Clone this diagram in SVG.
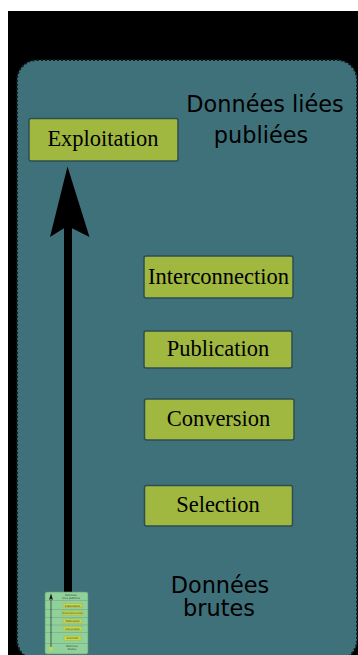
<svg xmlns="http://www.w3.org/2000/svg" width="358" height="655" viewBox="0 0 358 655">
  <style>
    .box { fill: #a0b83f; stroke: #2f4c52; stroke-width: 1.5; }
    .lbl { font-family: "Liberation Serif", serif; font-size: 22.5px; fill: #000; text-anchor: middle; }
    .big { font-family: "DejaVu Sans", sans-serif; font-size: 22.4px; fill: #000; text-anchor: middle; }
    .tb { fill: #c8d64a; stroke: #9fb03a; stroke-width: 0.4; }
    .tt { font-family: "DejaVu Sans", sans-serif; font-size: 2.6px; fill: #333; text-anchor: middle; }
    .ln { stroke: #6aa07a; stroke-width: 0.5; }
  </style>
  <rect x="0" y="0" width="358" height="655" fill="#ffffff"/>
  <rect x="8" y="11" width="350" height="644" fill="#000000"/>
  <rect id="panel" x="17" y="60" width="340" height="600" rx="20" ry="20" fill="#3f717b" stroke="#101a1c" stroke-width="2" stroke-dasharray="2 2"/>

  <g id="label-top">
    <text class="big" x="265" y="111.5">Données liées</text>
    <text class="big" x="261" y="143">publiées</text>
  </g>
  <g id="label-bottom">
    <text class="big" x="220" y="592.5">Données</text>
    <text class="big" x="219" y="616">brutes</text>
  </g>

  <g id="connectors">
    <rect x="64" y="224" width="8" height="369" fill="#000"/>
    <polygon points="67.5,166.5 89.5,237 67.5,226 50,237" fill="#000"/>
  </g>

  <g id="exploitation">
    <rect class="box" x="29" y="118.5" width="149" height="42.5" rx="2"/>
    <text class="lbl" x="103" y="146">Exploitation</text>
  </g>
  <g id="interconnection">
    <rect class="box" x="144" y="256" width="149" height="42" rx="2"/>
    <text class="lbl" x="218.5" y="283.5">Interconnection</text>
  </g>
  <g id="publication">
    <rect class="box" x="144" y="331" width="148" height="37" rx="2"/>
    <text class="lbl" x="218" y="356">Publication</text>
  </g>
  <g id="conversion">
    <rect class="box" x="144.5" y="399" width="149.5" height="41" rx="2"/>
    <text class="lbl" x="218.5" y="426">Conversion</text>
  </g>
  <g id="selection">
    <rect class="box" x="144.5" y="485.5" width="148" height="40.5" rx="2"/>
    <text class="lbl" x="218" y="512">Selection</text>
  </g>

  <g id="thumbnail">
    <rect x="45" y="592" width="43" height="62" rx="2" fill="#8fd09b" stroke="#5e9c70" stroke-width="0.6"/>
    <line class="ln" x1="45" y1="600.5" x2="88" y2="600.5"/>
    <line class="ln" x1="45" y1="609.5" x2="88" y2="609.5"/>
    <line class="ln" x1="45" y1="617.5" x2="88" y2="617.5"/>
    <line class="ln" x1="45" y1="625" x2="88" y2="625"/>
    <line class="ln" x1="45" y1="632.5" x2="88" y2="632.5"/>
    <line class="ln" x1="45" y1="643.5" x2="88" y2="643.5"/>
    <text class="tt" x="71" y="595.5">Données</text>
    <text class="tt" x="71" y="598.8">liées publiées</text>
    <rect class="tb" x="63" y="603.5" width="19" height="4"/>
    <text class="tt" x="72.5" y="606.5">Exploitation</text>
    <rect class="tb" x="62" y="611" width="21" height="4"/>
    <text class="tt" x="72.5" y="614">Interconnection</text>
    <rect class="tb" x="63" y="619" width="19" height="4"/>
    <text class="tt" x="72.5" y="622">Publication</text>
    <rect class="tb" x="63" y="626.5" width="19" height="4"/>
    <text class="tt" x="72.5" y="629.5">Conversion</text>
    <rect class="tb" x="64" y="636" width="17" height="4.5"/>
    <text class="tt" x="72.5" y="639.3">Selection</text>
    <text class="tt" x="72" y="647">Données</text>
    <text class="tt" x="72" y="650.3">brutes</text>
    <line x1="51" y1="650" x2="51" y2="598" stroke="#111" stroke-width="0.6"/>
    <polygon points="51,593.5 53,600 51,598.5 49,600" fill="#111"/>
    <rect x="49.5" y="647" width="3" height="4" fill="#c8d64a"/>
  </g>
</svg>
